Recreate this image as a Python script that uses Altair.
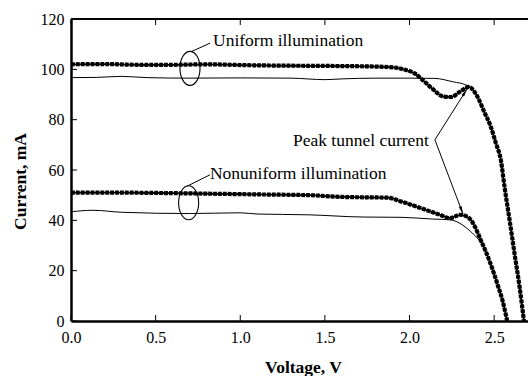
import math
import altair as alt
import pandas as pd

# ---------------- data ----------------
# Uniform illumination, marker curve
uni_mark_v = [0.00, 0.20, 0.40, 0.60, 0.80, 1.00, 1.20, 1.40, 1.60, 1.80, 1.90, 1.97, 2.03, 2.085,
              2.14, 2.20, 2.245, 2.30, 2.35, 2.40, 2.44, 2.48, 2.51, 2.54, 2.562, 2.592, 2.621, 2.651, 2.676]
uni_mark_i = [102.0, 102.1, 101.8, 101.8, 102.0, 101.7, 101.5, 101.4, 101.3, 101.1, 100.8, 99.9, 98.4, 95.3,
              92.0, 89.2, 89.0, 91.2, 93.0, 89.3, 83.3, 77.2, 70.7, 63.8, 53.0, 39.8, 26.5, 13.2, 0.0]
# Uniform illumination, plain curve
uni_line_v = [0.00, 0.15, 0.30, 0.45, 0.70, 1.00, 1.30, 1.50, 1.60, 1.80, 2.00, 2.15, 2.26, 2.33,
              2.36, 2.40, 2.44, 2.48, 2.51, 2.54, 2.562, 2.592, 2.621, 2.651, 2.676]
uni_line_i = [96.7, 96.8, 97.2, 96.7, 96.5, 96.6, 96.5, 95.9, 96.2, 96.5, 96.5, 96.4, 95.0, 93.9,
              92.8, 89.3, 83.3, 77.2, 70.7, 63.8, 53.0, 39.8, 26.5, 13.2, 0.0]
# Nonuniform illumination, marker curve
non_mark_v = [0.00, 0.30, 0.60, 0.90, 1.10, 1.40, 1.60, 1.87, 1.95, 2.065, 2.18, 2.24, 2.30, 2.35,
              2.39, 2.42, 2.45, 2.48, 2.52, 2.55, 2.577]
non_mark_i = [51.0, 51.0, 50.8, 50.5, 50.3, 50.0, 49.3, 49.0, 47.5, 44.9, 42.2, 40.9, 42.2, 41.0,
              37.0, 32.3, 27.7, 22.5, 14.5, 8.0, 0.0]
# Nonuniform illumination, plain curve
non_line_v = [0.00, 0.13, 0.30, 0.70, 1.00, 1.10, 1.40, 1.73, 1.95, 2.14, 2.24, 2.31, 2.36, 2.40,
              2.44, 2.48, 2.52, 2.55, 2.577]
non_line_i = [43.4, 44.0, 43.2, 42.7, 43.0, 42.5, 42.2, 41.3, 41.2, 40.5, 40.2, 38.3, 35.6, 33.0,
              29.0, 22.5, 14.5, 8.0, 0.0]

x_ticks = [0.0, 0.5, 1.0, 1.5, 2.0, 2.5]
y_ticks = [0, 20, 40, 60, 80, 100, 120]

# annotations
label_text = ["Uniform illumination", "Nonuniform illumination", "Peak tunnel current"]
label_v = [0.839, 0.821, 2.115]
label_i = [111.2, 58.5, 71.5]
label_align = ["left", "left", "right"]

ellipse_v = [0.703, 0.695]
ellipse_i = [100.4, 47.0]

seg_v = [0.713, 0.684, 2.150, 2.150]
seg_i = [107.1, 53.5, 72.0, 72.0]
seg_v2 = [0.821, 0.821, 2.340, 2.316]
seg_i2 = [110.4, 58.1, 92.2, 42.5]

arrow_from = [2, 3]  # segments ending in an arrowhead

# ---------------- layout ----------------
W, H = 457, 302
XMAX, YMAX = 2.7, 120
FONT = "Liberation Serif"

xs = alt.Scale(domain=[0, XMAX], nice=False, zero=False)
ys = alt.Scale(domain=[0, YMAX], nice=False)

xaxis = alt.Axis(values=x_ticks, format=".1f", ticks=False, grid=False, labelFlush=False,
                 labelOverlap=False, domainWidth=2.5, domainColor="black",
                 labelFont=FONT, labelFontSize=16, labelColor="black", labelPadding=8,
                 title="Voltage, V", titleFont=FONT, titleFontSize=17.5, titleFontWeight="bold",
                 titleColor="black", titleX=232, titleY=46, titleBaseline="middle", titleAlign="center")
yaxis = alt.Axis(values=y_ticks, format="d", ticks=False, grid=False, labelFlush=False,
                 labelOverlap=False, domainWidth=2.5, domainColor="black",
                 labelFont=FONT, labelFontSize=16, labelColor="black", labelPadding=7,
                 title="Current, mA", titleFont=FONT, titleFontSize=17.5, titleFontWeight="bold",
                 titleColor="black", titleX=-51, titleY=162, titleBaseline="middle",
                 titleAlign="center", titleAngle=-90)


def frame(v, i, name):
    return pd.DataFrame({"V": v, "I": i, "s": name})


thick = pd.concat([frame(uni_mark_v, uni_mark_i, "u"), frame(non_mark_v, non_mark_i, "n")])
thin = pd.concat([frame(uni_line_v, uni_line_i, "u"), frame(non_line_v, non_line_i, "n")])

X = alt.X("V:Q", scale=xs, axis=xaxis)
Y = alt.Y("I:Q", scale=ys, axis=yaxis)

thin_layer = alt.Chart(thin).mark_line(color="black", strokeWidth=1, interpolate="monotone",
                                       clip=True).encode(x=X, y=Y, detail="s:N")
thick_core = alt.Chart(thick).mark_line(color="black", strokeWidth=1.8, interpolate="monotone",
                                        clip=True).encode(x=X, y=Y, detail="s:N")
thick_marks = alt.Chart(thick).mark_line(color="black", strokeWidth=4.2, strokeDash=[3.8, 1.1],
                                         strokeCap="butt", interpolate="monotone",
                                         clip=True).encode(x=X, y=Y, detail="s:N")

# inward ticks
yt = pd.DataFrame({"I": y_ticks})
xt = pd.DataFrame({"V": x_ticks})
ytick_layer = alt.Chart(yt).mark_rule(color="black", strokeWidth=1).encode(
    y=Y, x=alt.value(0), x2=alt.value(6))
xtick_bot = alt.Chart(xt).mark_rule(color="black", strokeWidth=1).encode(
    x=X, y=alt.value(H), y2=alt.value(H - 6))
xtick_top = alt.Chart(xt).mark_rule(color="black", strokeWidth=1).encode(
    x=X, y=alt.value(0), y2=alt.value(6))
top_line = alt.Chart(xt).mark_rule(color="black", strokeWidth=1).encode(
    x=alt.value(0), x2=alt.value(W), y=alt.value(0))

# ellipses
ELLIPSE = "M0,-1A0.59,1,0,1,1,0,1A0.59,1,0,1,1,0,-1Z"
ell = pd.DataFrame({"V": ellipse_v, "I": ellipse_i})
ellipse_layer = alt.Chart(ell).mark_point(shape=ELLIPSE, size=34 * 34, filled=False, color="black",
                                          strokeWidth=1.1, opacity=1).encode(x=X, y=Y)

# leader lines and arrows
segs = pd.DataFrame({"V": seg_v, "I": seg_i, "V2": seg_v2, "I2": seg_i2})
seg_layer = alt.Chart(segs).mark_rule(color="black", strokeWidth=1).encode(
    x=X, y=Y, x2="V2:Q", y2="I2:Q")

px_v = W / XMAX
px_i = H / YMAX
ang = []
for k in arrow_from:
    dx = (seg_v2[k] - seg_v[k]) * px_v
    dy = -(seg_i2[k] - seg_i[k]) * px_i
    ang.append(math.degrees(math.atan2(dx, -dy)) % 360)
heads = pd.DataFrame({"V": [seg_v2[k] for k in arrow_from], "I": [seg_i2[k] for k in arrow_from],
                      "a": ang})
ARROW = "M0,0L0.38,2L-0.38,2Z"
head_layer = alt.Chart(heads).mark_point(shape=ARROW, size=64, filled=True, color="black",
                                         opacity=1, strokeWidth=0).encode(
    x=X, y=Y, angle=alt.Angle("a:Q", scale=None))

labels = pd.DataFrame({"t": label_text, "V": label_v, "I": label_i, "al": label_align})
text_left = alt.Chart(labels[labels.al == "left"]).mark_text(
    font=FONT, fontSize=17.5, color="black", align="left", baseline="middle").encode(
    x=X, y=Y, text="t:N")
text_right = alt.Chart(labels[labels.al == "right"]).mark_text(
    font=FONT, fontSize=17.5, color="black", align="right", baseline="middle").encode(
    x=X, y=Y, text="t:N")

chart = alt.layer(
    thin_layer, thick_core, thick_marks, ytick_layer, xtick_bot, xtick_top, top_line,
    ellipse_layer, seg_layer, head_layer, text_left, text_right
).properties(
    width=W, height=H,
    padding={"left": 71, "top": 19, "right": 0, "bottom": 55},
    autosize=alt.AutoSizeParams(type="none"),
    background="white",
).configure(font=FONT).configure_view(stroke=None).configure_axis(labelFont=FONT, titleFont=FONT)

chart.save("out.html", embed_options={"renderer": "svg", "actions": False})
